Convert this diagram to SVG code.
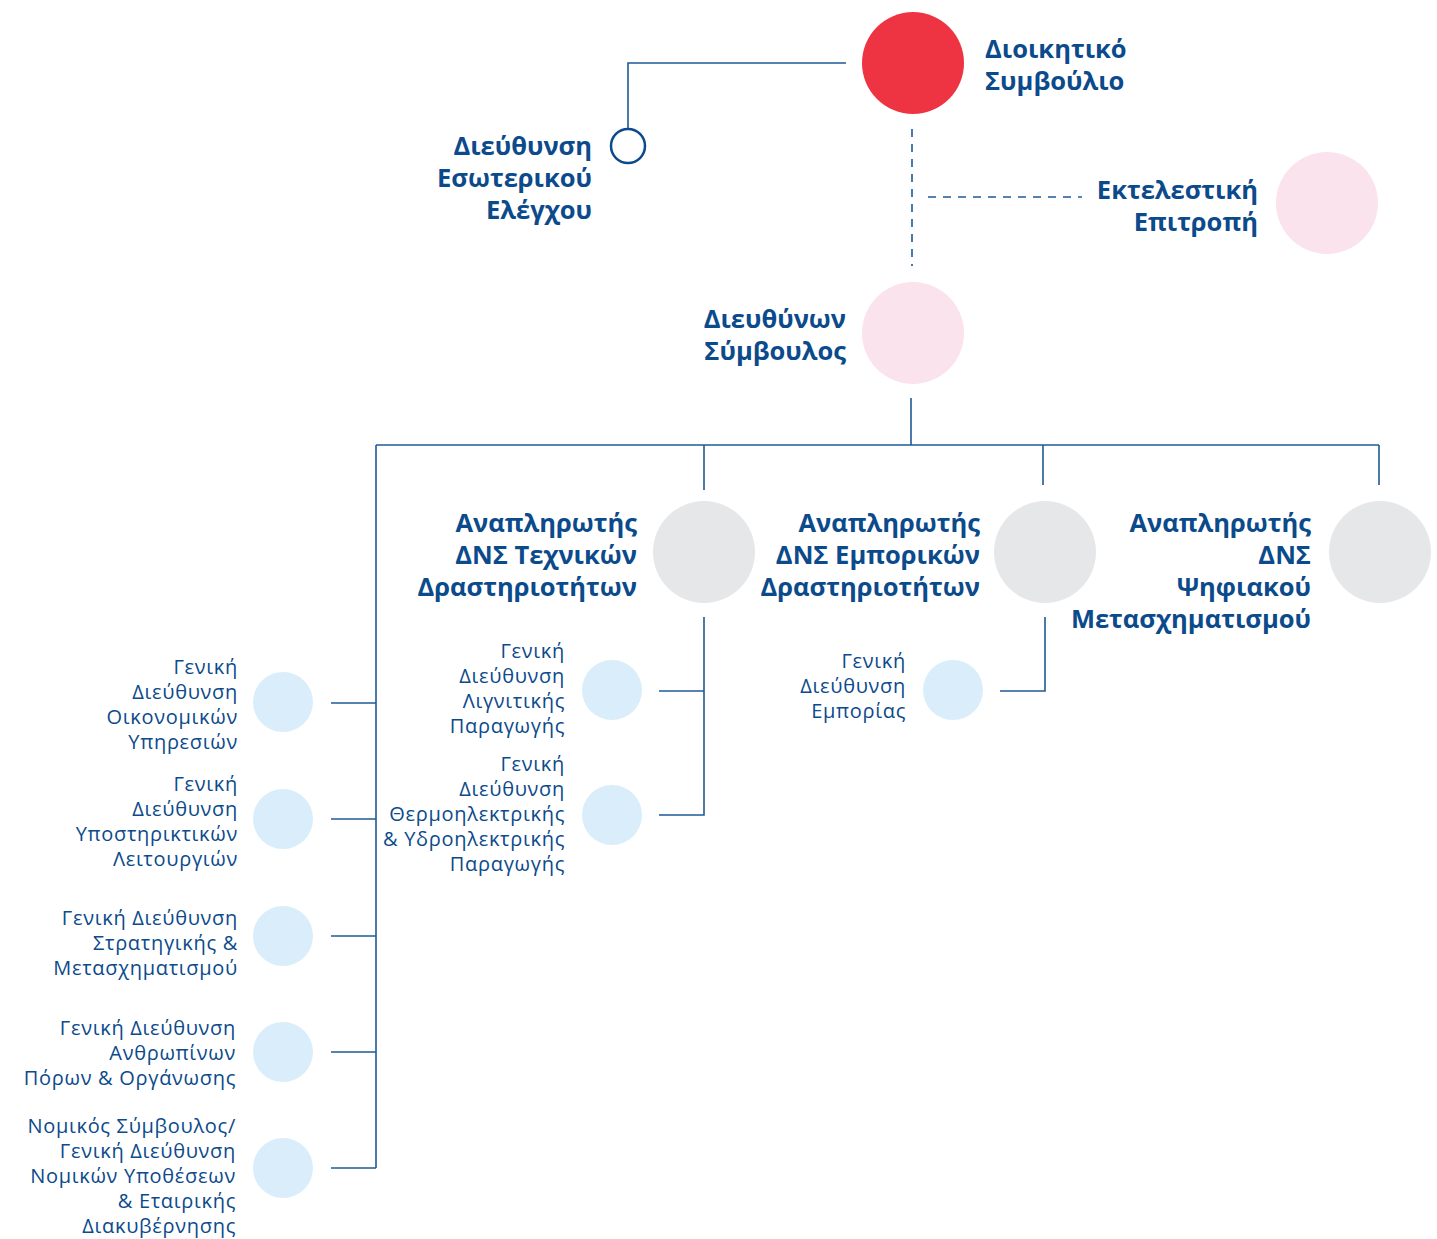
<svg xmlns="http://www.w3.org/2000/svg" width="1437" height="1239" viewBox="0 0 1437 1239">
<style>
.t{font-family:"Open Sans","Noto Sans","DejaVu Sans",sans-serif;font-weight:700;font-size:25.5px;fill:#0b4a8b}
.s{font-family:"Open Sans","Noto Sans","DejaVu Sans",sans-serif;font-weight:400;font-size:20px;letter-spacing:0.7px;fill:#0b4a8b}
.e{text-anchor:end}
.ln{fill:none;stroke:#1f5a96;stroke-width:1.6}
.dash{fill:none;stroke:#1f5a96;stroke-width:1.6;stroke-dasharray:8 7}
.red{fill:#ee3342}
.pink{fill:#fae3ec}
.gray{fill:#e6e7e9}
.lb{fill:#d9eefa}
</style>
<rect width="1437" height="1239" fill="#ffffff"/>
<g id="connectors">
<path class="ln" d="M846 63 H628 V129"/>
<path class="dash" d="M912 129 V266"/>
<path class="dash" d="M928 197 H1082"/>
<path class="ln" d="M911 398 V445"/>
<path class="ln" d="M376 445 H1379"/>
<path class="ln" d="M704 445 V490"/>
<path class="ln" d="M1043 445 V485"/>
<path class="ln" d="M1379 445 V485"/>
<path class="ln" d="M376 445 V1168"/>
<path class="ln" d="M331 703 H376"/>
<path class="ln" d="M331 819 H376"/>
<path class="ln" d="M331 936 H376"/>
<path class="ln" d="M331 1052 H376"/>
<path class="ln" d="M331 1168 H376"/>
<path class="ln" d="M704 617 V815 H659"/>
<path class="ln" d="M659 691 H704"/>
<path class="ln" d="M1045 617 V691 H1000"/>
</g>
<g id="board">
<circle class="red" cx="913" cy="63" r="51"/>
<text class="t" x="985" y="58">Διοικητικό</text>
<text class="t" x="985" y="90">Συμβούλιο</text>
</g>
<g id="audit">
<circle cx="628" cy="146" r="17" fill="#fff" stroke="#0b4a8b" stroke-width="2.5"/>
<text class="t e" x="592" y="155">Διεύθυνση</text>
<text class="t e" x="592" y="187">Εσωτερικού</text>
<text class="t e" x="592" y="219">Ελέγχου</text>
</g>
<g id="executive">
<circle class="pink" cx="1327" cy="203" r="51"/>
<text class="t e" x="1258" y="199">Εκτελεστική</text>
<text class="t e" x="1258" y="231">Επιτροπή</text>
</g>
<g id="ceo">
<circle class="pink" cx="913" cy="333" r="51"/>
<text class="t e" x="846" y="328">Διευθύνων</text>
<text class="t e" x="846" y="360">Σύμβουλος</text>
</g>
<g id="deputy-tech">
<circle class="gray" cx="704" cy="552" r="51"/>
<text class="t e" x="637" y="532">Αναπληρωτής</text>
<text class="t e" x="637" y="564">ΔΝΣ Τεχνικών</text>
<text class="t e" x="637" y="596">Δραστηριοτήτων</text>
</g>
<g id="deputy-comm">
<circle class="gray" cx="1045" cy="552" r="51"/>
<text class="t e" x="980" y="532">Αναπληρωτής</text>
<text class="t e" x="980" y="564">ΔΝΣ Εμπορικών</text>
<text class="t e" x="980" y="596">Δραστηριοτήτων</text>
</g>
<g id="deputy-digital">
<circle class="gray" cx="1380" cy="552" r="51"/>
<text class="t e" x="1311" y="532">Αναπληρωτής</text>
<text class="t e" x="1311" y="564">ΔΝΣ</text>
<text class="t e" x="1311" y="596">Ψηφιακού</text>
<text class="t e" x="1311" y="628">Μετασχηματισμού</text>
</g>
<g id="gd-lignite">
<circle class="lb" cx="612" cy="690" r="30"/>
<text class="s e" x="565" y="658">Γενική</text>
<text class="s e" x="565" y="683">Διεύθυνση</text>
<text class="s e" x="565" y="708">Λιγνιτικής</text>
<text class="s e" x="565" y="733">Παραγωγής</text>
</g>
<g id="gd-thermo">
<circle class="lb" cx="612" cy="815" r="30"/>
<text class="s e" x="565" y="771">Γενική</text>
<text class="s e" x="565" y="796">Διεύθυνση</text>
<text class="s e" x="565" y="821">Θερμοηλεκτρικής</text>
<text class="s e" x="565" y="846">&amp; Υδροηλεκτρικής</text>
<text class="s e" x="565" y="871">Παραγωγής</text>
</g>
<g id="gd-trade">
<circle class="lb" cx="953" cy="690" r="30"/>
<text class="s e" x="906" y="668">Γενική</text>
<text class="s e" x="906" y="693">Διεύθυνση</text>
<text class="s e" x="906" y="718">Εμπορίας</text>
</g>
<g id="gd-finance">
<circle class="lb" cx="283" cy="702" r="30"/>
<text class="s e" x="238" y="674">Γενική</text>
<text class="s e" x="238" y="699">Διεύθυνση</text>
<text class="s e" x="238" y="724">Οικονομικών</text>
<text class="s e" x="238" y="749">Υπηρεσιών</text>
</g>
<g id="gd-support">
<circle class="lb" cx="283" cy="819" r="30"/>
<text class="s e" x="238" y="791">Γενική</text>
<text class="s e" x="238" y="816">Διεύθυνση</text>
<text class="s e" x="238" y="841">Υποστηρικτικών</text>
<text class="s e" x="238" y="866">Λειτουργιών</text>
</g>
<g id="gd-strategy">
<circle class="lb" cx="283" cy="936" r="30"/>
<text class="s e" x="238" y="925">Γενική Διεύθυνση</text>
<text class="s e" x="238" y="950">Στρατηγικής &amp;</text>
<text class="s e" x="238" y="975">Μετασχηματισμού</text>
</g>
<g id="gd-hr">
<circle class="lb" cx="283" cy="1052" r="30"/>
<text class="s e" x="236" y="1035">Γενική Διεύθυνση</text>
<text class="s e" x="236" y="1060">Ανθρωπίνων</text>
<text class="s e" x="236" y="1085">Πόρων &amp; Οργάνωσης</text>
</g>
<g id="gd-legal">
<circle class="lb" cx="283" cy="1168" r="30"/>
<text class="s e" x="236" y="1133">Νομικός Σύμβουλος/</text>
<text class="s e" x="236" y="1158">Γενική Διεύθυνση</text>
<text class="s e" x="236" y="1183">Νομικών Υποθέσεων</text>
<text class="s e" x="236" y="1208">&amp; Εταιρικής</text>
<text class="s e" x="236" y="1233">Διακυβέρνησης</text>
</g>
</svg>
